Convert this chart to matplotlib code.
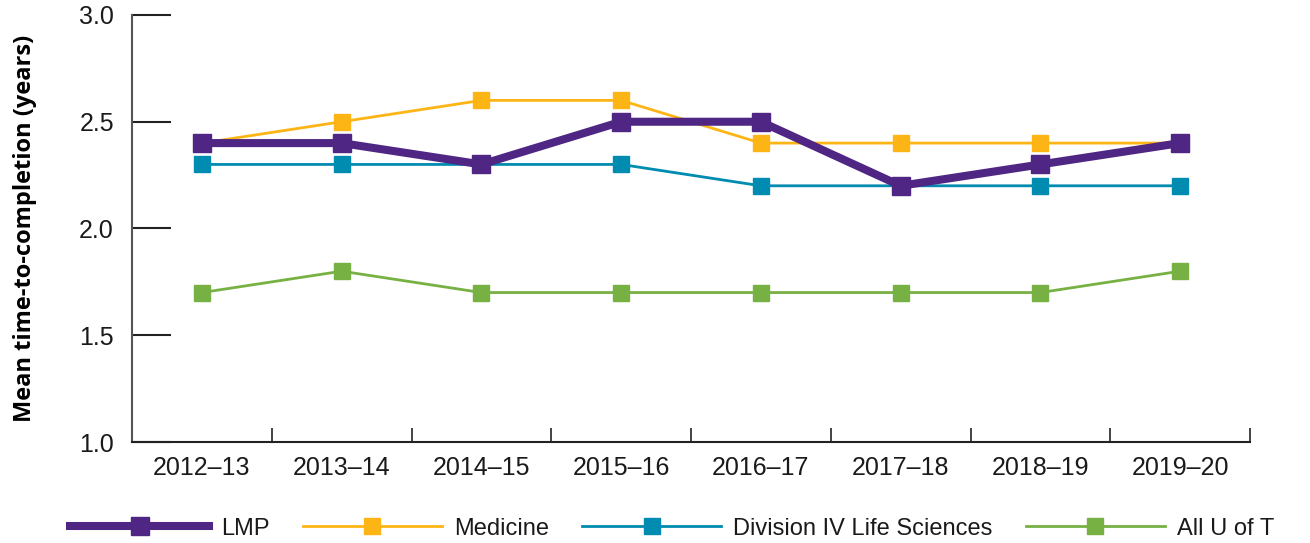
import matplotlib
matplotlib.use("Agg")
import matplotlib.pyplot as plt

years = ["2012–13", "2013–14", "2014–15", "2015–16", "2016–17", "2017–18", "2018–19", "2019–20"]
lmp = [2.4, 2.4, 2.3, 2.5, 2.5, 2.2, 2.3, 2.4]
medicine = [2.4, 2.5, 2.6, 2.6, 2.4, 2.4, 2.4, 2.4]
division = [2.3, 2.3, 2.3, 2.3, 2.2, 2.2, 2.2, 2.2]
all_uoft = [1.7, 1.8, 1.7, 1.7, 1.7, 1.7, 1.7, 1.8]
yticks = [1.0, 1.5, 2.0, 2.5, 3.0]

plt.rcParams['font.family'] = ['Liberation Sans', 'DejaVu Sans']

fig = plt.figure(figsize=(13.1, 5.43), dpi=100)
ax = fig.add_axes([0.1008, 0.186, 0.8534, 0.7864])

x = list(range(len(years)))
ax.plot(x, all_uoft, color='#78B143', lw=2, marker='s', ms=11, label='All U of T', zorder=2)
ax.plot(x, division, color='#008BB0', lw=2, marker='s', ms=11, label='Division IV Life Sciences', zorder=3)
ax.plot(x, medicine, color='#FDB515', lw=2, marker='s', ms=11, label='Medicine', zorder=4)
ax.plot(x, lmp, color='#4F2683', lw=5.8, marker='s', ms=12.5, label='LMP', zorder=5)

ax.set_xlim(-0.5, len(years) - 0.5)
ax.set_ylim(1.0, 3.0)
ax.set_yticks(yticks)
ax.set_yticklabels([f"{v:.1f}" for v in yticks])
ax.set_xticks(x)
ax.set_xticklabels(years)
ax.set_xticks([i - 0.5 for i in range(len(years) + 1)], minor=True)
ax.tick_params(axis='x', which='major', length=0, labelsize=18, pad=10, labelcolor='#1a1a1a')
ax.tick_params(axis='x', which='minor', direction='in', length=10, width=1.2, color='#222222')
ax.tick_params(axis='y', direction='in', length=28, width=1.5, labelsize=18, pad=13,
               color='#222222', labelcolor='#1a1a1a')

for s in ['top', 'right']:
    ax.spines[s].set_visible(False)
ax.spines['left'].set_color('#555555')
ax.spines['left'].set_linewidth(1.5)
ax.spines['bottom'].set_color('#222222')
ax.spines['bottom'].set_linewidth(1.5)

ax.set_ylabel('Mean time-to-completion (years)', fontsize=17, fontweight='bold',
              family=['Open Sans', 'DejaVu Sans'], labelpad=30)

handles, labels = ax.get_legend_handles_labels()
order = [3, 2, 1, 0]
leg = fig.legend([handles[i] for i in order], [labels[i] for i in order],
                 loc='lower center', bbox_to_anchor=(0.513, -0.033), ncol=4, frameon=False,
                 fontsize=17, handlelength=5.9, columnspacing=1.4, handletextpad=0.5)
for t in leg.get_texts():
    t.set_color('#1a1a1a')

fig.savefig('out.png', dpi=100)
